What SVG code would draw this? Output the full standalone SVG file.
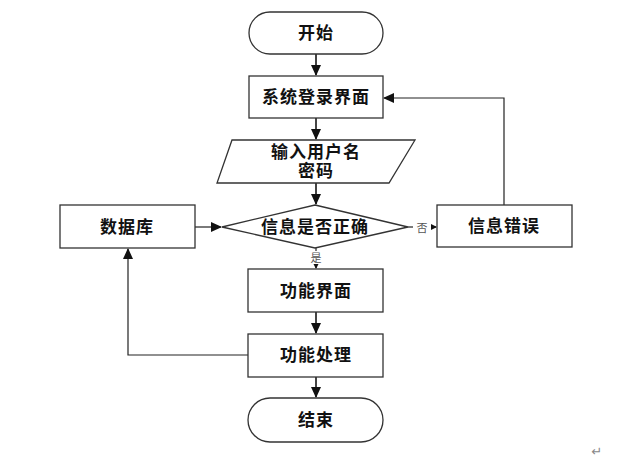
<svg xmlns="http://www.w3.org/2000/svg" width="629" height="464" viewBox="0 0 629 464">
<style>
.s{fill:#fff;stroke:#333;stroke-width:1.3}
.t{font-family:"Liberation Serif","Noto Sans CJK SC",serif;font-size:17px;font-weight:bold;fill:#111;text-anchor:middle;dominant-baseline:central;letter-spacing:1px}
.l{font-family:"Noto Sans CJK SC",sans-serif;font-size:11px;fill:#555;text-anchor:middle;dominant-baseline:central}
.c{fill:none;stroke:#222;stroke-width:1.2}
.v{fill:none;stroke:#444;stroke-width:2}
</style>
<defs>
<marker id="a" markerWidth="8" markerHeight="8" refX="7" refY="4" orient="auto" markerUnits="userSpaceOnUse"><path d="M0,0 L8,4 L0,8 Z" fill="#111"/></marker>
<marker id="b" markerWidth="12" markerHeight="12" refX="10" refY="6" orient="auto" markerUnits="userSpaceOnUse"><path d="M0,1 L11,6 L0,11 Z" fill="#111"/></marker>
</defs>
<rect width="629" height="464" fill="#fff"/>
<g id="connectors">
<line class="v" x1="316" y1="54" x2="316" y2="75" marker-end="url(#b)"/>
<line class="v" x1="316" y1="118" x2="316" y2="139" marker-end="url(#b)"/>
<line class="v" x1="316" y1="183" x2="316" y2="204" marker-end="url(#b)"/>
<line class="c" x1="316" y1="248" x2="316" y2="268" marker-end="url(#a)"/>
<line class="v" x1="316" y1="312" x2="316" y2="333" marker-end="url(#b)"/>
<line class="v" x1="316" y1="377" x2="316" y2="397" marker-end="url(#b)"/>
<line class="c" x1="195" y1="227" x2="221" y2="227" marker-end="url(#b)"/>
<line class="c" x1="408" y1="227" x2="436" y2="227" marker-end="url(#a)"/>
<polyline class="c" points="504,205 504,98 384,98" marker-end="url(#b)"/>
<polyline class="c" points="248,355 128,355 128,249" marker-end="url(#b)"/>
<rect x="413" y="220" width="18" height="14" fill="#fff"/>
<text class="l" x="422" y="227">否</text>
<rect x="309" y="251" width="14" height="13" fill="#fff"/>
<text class="l" x="316" y="257">是</text>
</g>
<g id="start"><rect class="s" x="249" y="12" width="134" height="42" rx="21"/><text class="t" x="316" y="33">开始</text></g>
<g id="login"><rect class="s" x="249" y="76" width="134" height="42"/><text class="t" x="316" y="97">系统登录界面</text></g>
<g id="input"><polygon class="s" points="232,140 415,140 389,183 217,183"/><text class="t" x="316" y="152">输入用户名</text><text class="t" x="316" y="171">密码</text></g>
<g id="check"><polygon class="s" points="315,205 408,227 315,248 222,227"/><text class="t" x="315" y="227">信息是否正确</text></g>
<g id="db"><rect class="s" x="60" y="205" width="135" height="43"/><text class="t" x="127" y="227">数据库</text></g>
<g id="error"><rect class="s" x="437" y="205" width="135" height="42"/><text class="t" x="504" y="226">信息错误</text></g>
<g id="func"><rect class="s" x="248" y="269" width="135" height="43"/><text class="t" x="316" y="291">功能界面</text></g>
<g id="proc"><rect class="s" x="248" y="334" width="135" height="43"/><text class="t" x="316" y="355">功能处理</text></g>
<g id="end"><rect class="s" x="248" y="398" width="135" height="44" rx="22"/><text class="t" x="316" y="420">结束</text></g>
<text x="597" y="451" font-family="DejaVu Sans,sans-serif" font-size="13" fill="#888" text-anchor="middle" dominant-baseline="central">↵</text>
</svg>
